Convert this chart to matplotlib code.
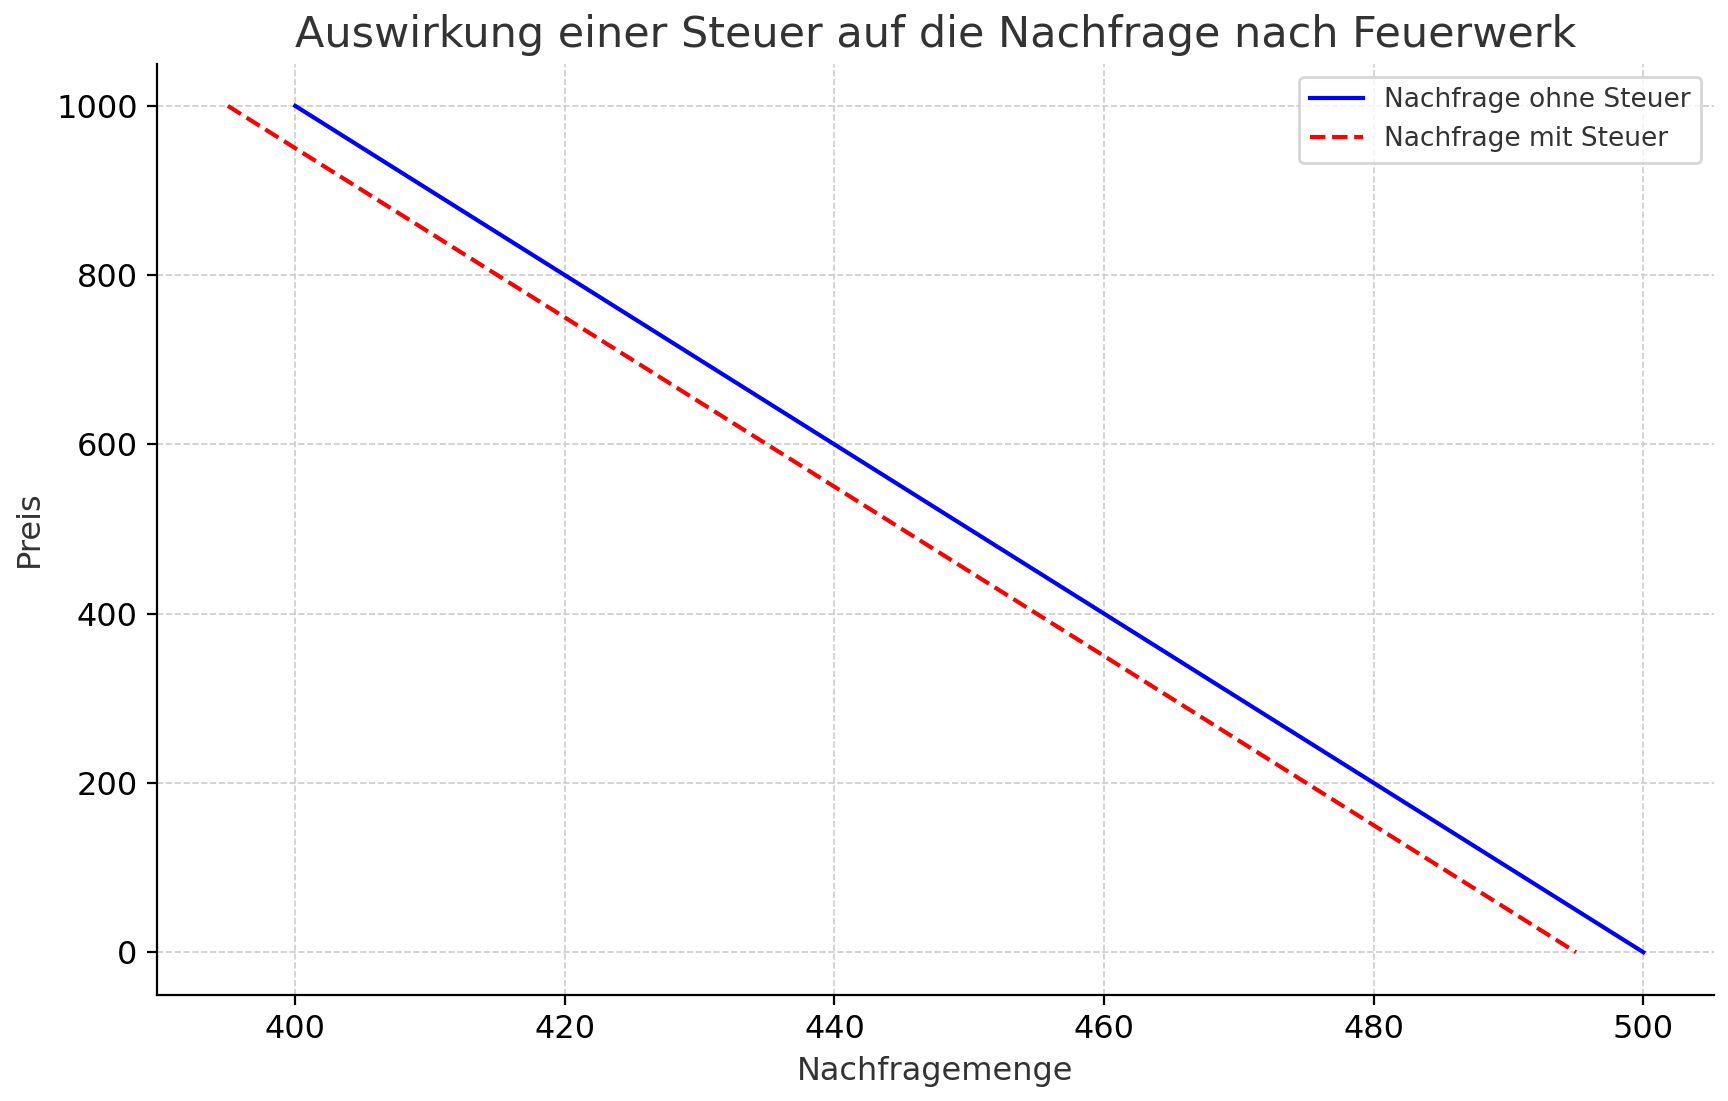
import matplotlib
matplotlib.use("Agg")
import matplotlib.pyplot as plt

menge_ohne = [400, 500]
preis_ohne = [1000, 0]
menge_mit = [395, 495]
preis_mit = [1000, 0]

fig, ax = plt.subplots(figsize=(8.64, 5.505), dpi=200)
ax.plot(menge_ohne, preis_ohne, color="blue", lw=1.5, label="Nachfrage ohne Steuer")
ax.plot(menge_mit, preis_mit, color="red", lw=1.5, ls="--", label="Nachfrage mit Steuer")
ax.set_title("Auswirkung einer Steuer auf die Nachfrage nach Feuerwerk", fontsize=15.5, color="#333333")
ax.set_xlabel("Nachfragemenge", fontsize=11.5, color="#333333")
ax.set_ylabel("Preis", fontsize=11.5, color="#333333")
ax.set_xticks([400, 420, 440, 460, 480, 500])
ax.set_yticks([0, 200, 400, 600, 800, 1000])
ax.tick_params(labelsize=11.5)
ax.grid(True, ls="--", color="#cccccc", lw=0.6)
ax.spines["top"].set_visible(False)
ax.spines["right"].set_visible(False)
leg = ax.legend(loc="upper right", fontsize=9.5)
for t in leg.get_texts():
    t.set_color("#333333")
fig.tight_layout(pad=0.5)
fig.savefig("out.png", dpi=200)
